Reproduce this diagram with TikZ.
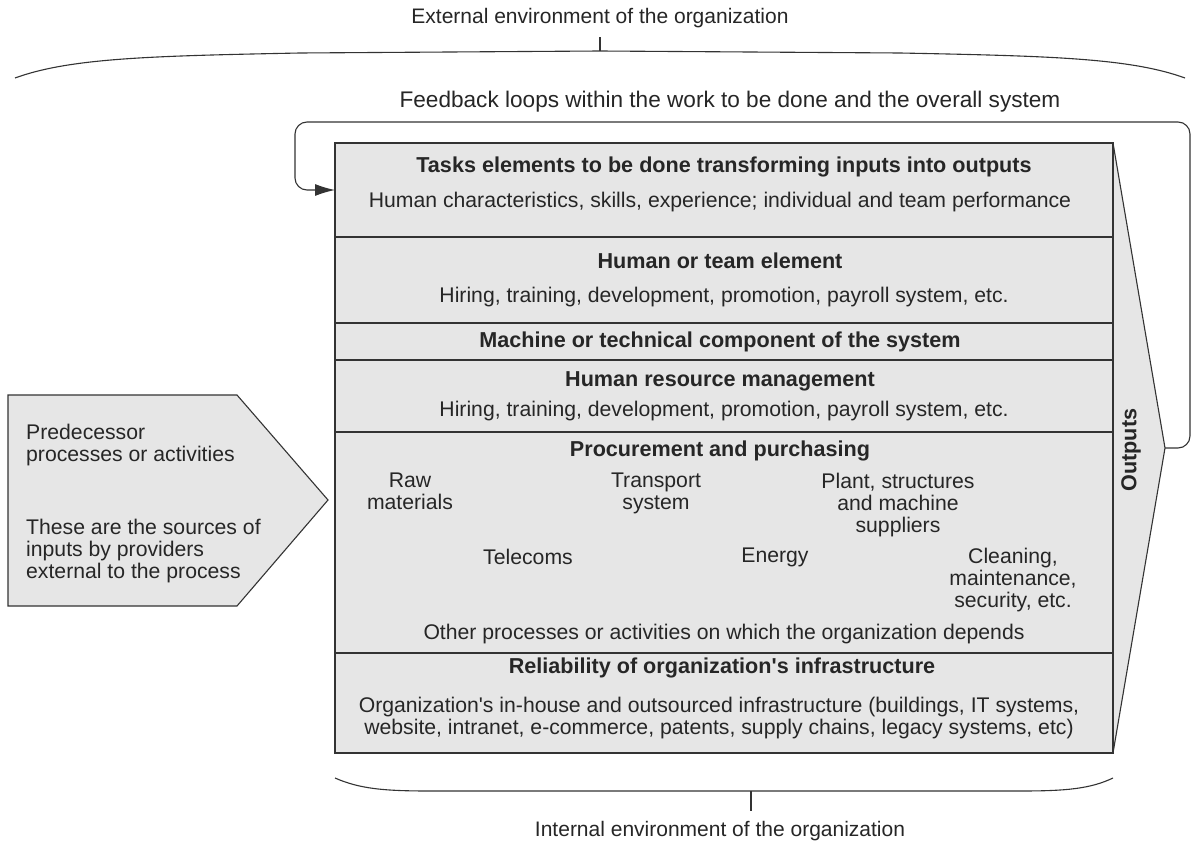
\documentclass[tikz,border=0pt]{standalone}
\usepackage{fontspec}
\setmainfont{Liberation Sans}
\usetikzlibrary{arrows.meta}
\definecolor{boxgray}{HTML}{E6E6E6}
\definecolor{linegray}{HTML}{333333}
\tikzset{
  sect/.style={draw=linegray, line width=1.1pt, fill=boxgray, anchor=north west,
    minimum width=778, inner sep=0pt, outer sep=0pt},
  head/.style={font=\fontsize{21.6}{22}\selectfont\bfseries, text=black!85, inner sep=0pt},
  body/.style={font=\fontsize{21.2}{22}\selectfont, text=black!85, inner sep=0pt, align=center},
  note/.style={font=\fontsize{21}{22}\selectfont, text=black!85, inner sep=0pt},
  thin/.style={draw=linegray, line width=1.1pt},
}
\begin{document}
\begin{tikzpicture}[x=1pt, y=-1pt]
\useasboundingbox[fill=white] (0,0) rectangle (1203,843);

% environment labels and braces
\node[note] (ext) at (600,18) {External environment of the organization};
\draw[thin] (15,78) .. controls (70,58) and (150,56) .. (300,53) -- (600,51) -- (900,53) .. controls (1050,56) and (1130,58) .. (1185,78);
\coordinate (extbr) at (600,51);
\draw[thin] (extbr) -- (600,37);

\node[note, font=\fontsize{22.6}{23}\selectfont] (fb) at (730,102) {Feedback loops within the work to be done and the overall system};

% outputs wedge
\fill[boxgray] (1113,143) -- (1165,448) -- (1113,753) -- cycle;
\draw[thin] (1113,143) -- (1165,448) -- (1113,753);
\coordinate (outtip) at (1165,448);
\node[head, rotate=90] (outl) at (1131,450) {Outputs};

% stacked sections
\node[sect, minimum height=94]  (s1) at (335,143) {};
\node[sect, minimum height=86]  (s2) at (335,237) {};
\node[sect, minimum height=37]  (s3) at (335,323) {};
\node[sect, minimum height=72]  (s4) at (335,360) {};
\node[sect, minimum height=221] (s5) at (335,432) {};
\node[sect, minimum height=100] (s6) at (335,653) {};

% feedback loop
\draw[thin, rounded corners=12, -{Latex[length=20pt,width=12pt]}]
  (outtip) -- (1190,448) -- (1190,122) -- (295,122) -- (295,190) -- (s1.west |- 0,190);

% section texts
\node[head] (t1) at (724,167) {Tasks elements to be done transforming inputs into outputs};
\node[body] (b1) at (720,202) {Human characteristics, skills, experience; individual and team performance};
\node[head] (t2) at (720,261) {Human or team element};
\node[body] (b2) at (724,297) {Hiring, training, development, promotion, payroll system, etc.};
\node[head] (t3) at (720,342) {Machine or technical component of the system};
\node[head] (t4) at (720,381) {Human resource management};
\node[body] (b4) at (724,411) {Hiring, training, development, promotion, payroll system, etc.};
\node[head] (t5) at (720,451) {Procurement and purchasing};
\node[body, anchor=north] (raw) at (410,473) {Raw\\materials};
\node[body, anchor=north] (trans) at (656,473) {Transport\\system};
\node[body, anchor=north] (plant) at (898,473) {Plant, structures\\and machine\\suppliers};
\node[body] (tel) at (528,557) {Telecoms};
\node[body] (energy) at (775,557) {Energy};
\node[body, anchor=north] (clean) at (1013,548) {Cleaning,\\maintenance,\\security, etc.};
\node[body] (other) at (724,634) {Other processes or activities on which the organization depends};
\node[head] (t6) at (722,668) {Reliability of organization\textquotesingle s infrastructure};
\node[body, anchor=north] (b6) at (719,697) {Organization\textquotesingle s in-house and outsourced infrastructure (buildings, IT systems,\\website, intranet, e-commerce, patents, supply chains, legacy systems, etc)};

% predecessor arrow
\draw[thin, fill=boxgray] (8,395) -- (237,395) -- (328,500) -- (237,606) -- (8,606) -- cycle;
\node[body, align=left, anchor=north west] (pred) at (26,424) {Predecessor\\processes or activities};
\node[body, align=left, anchor=north west] (src) at (26,519) {These are the sources of\\inputs by providers\\external to the process};

% internal environment brace
\draw[thin] (335,778) .. controls (360,789) and (385,791) .. (430,791) -- (1020,791) .. controls (1065,791) and (1090,789) .. (1113,778);
\coordinate (intbr) at (751,791);
\draw[thin] (intbr) -- (751,811);
\node[note] (int) at (720,831) {Internal environment of the organization};
\end{tikzpicture}
\end{document}
